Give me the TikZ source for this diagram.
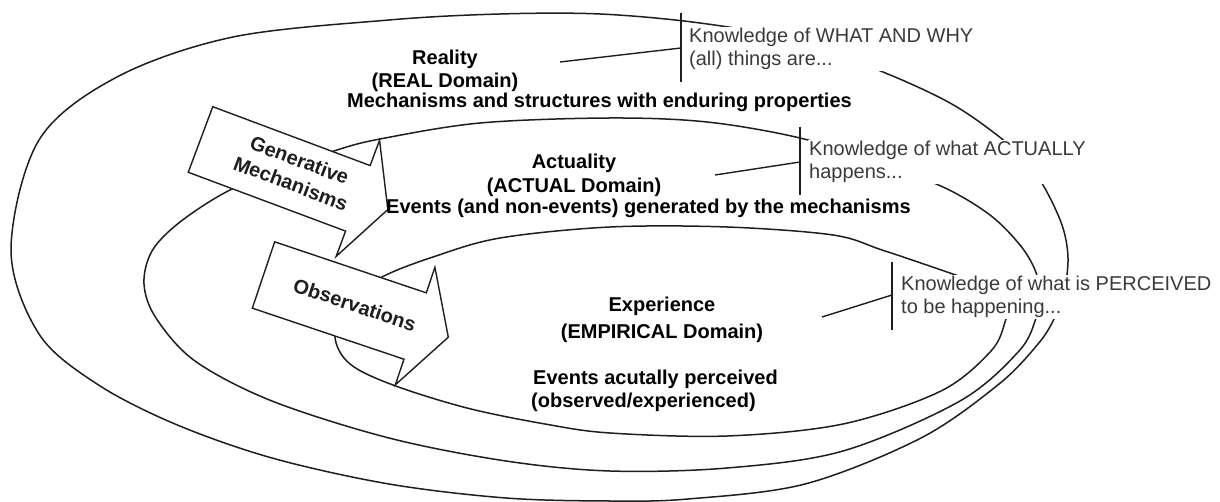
\documentclass[tikz,border=0pt]{standalone}
\usepackage{fontspec}
\setmainfont{Liberation Sans}
\definecolor{ink}{HTML}{1E1E1E}
\definecolor{graytext}{HTML}{3A3A3A}
\begin{document}
\begin{tikzpicture}[x=1pt,y=-1pt,
  loopline/.style={draw=ink, line width=1.5pt},
  blockarrow/.style={draw=ink, line width=1.4pt, fill=white, line join=miter},
  domlabel/.style={font=\fontsize{20}{24}\selectfont\bfseries, text=black, inner sep=0pt},
  knowledge/.style={font=\fontsize{20}{23.5}\selectfont, text=graytext, align=left,
                    fill=white, inner sep=1pt, anchor=north west},
  arrowtag/.style={font=\fontsize{20}{25}\selectfont\bfseries, text=ink, align=center, inner sep=0pt},
  bracketline/.style={draw=ink, line width=1.4pt}]

\useasboundingbox (0,0) rectangle (1220,502);

% outer loop: the real domain
\draw[loopline] plot[smooth cycle, tension=0.55] coordinates {
  (795,40) (700,23) (600,14) (500,14) (389,20) (233,37) (117,77) (39,140)
  (11,250) (39,334) (97,384) (175,424) (272,458) (389,484) (506,498)
  (610,501) (688,499) (805,484) (921,438) (999,384) (1038,344) (1054,319)
  (1064,292) (1068,258) (1062,225) (1043,185) (1022,158) (997,135)
  (950,103) (883,72)};

% middle loop: the actual domain
\draw[loopline] plot[smooth cycle, tension=0.55] coordinates {
  (875,162) (800,138) (707,122) (610,118) (480,123) (380,139) (337,150)
  (290,167) (230,190) (180,222) (152,251) (144,284) (156,318) (195,361)
  (272,401) (389,438) (506,461) (610,471) (727,468) (843,451) (960,401)
  (1019,351) (1036,318) (1040,294) (1035,270) (1020,245) (990,215) (943,187)};

% inner loop: the empirical domain
\draw[loopline] plot[smooth cycle, tension=0.55] coordinates {
  (985,286) (947,272) (882,250) (833,235) (727,227) (610,227) (500,238)
  (433,257) (382,277) (345,303) (335,337) (350,364) (393,385) (467,408)
  (545,424) (610,433) (727,436) (843,424) (941,391) (991,351) (1005,322)
  (1007,303)};

% block arrow: observations
\begin{scope}[shift={(263.5,275)}, rotate=-18.6]
  \draw[blockarrow] (0,-35) -- (160,-35) -- (160,-62) -- (195,0) -- (160,62)
    -- (160,35) -- (0,35) -- cycle;
  \node[arrowtag, rotate=-18.6] (obs) at (96,-1) {Observations};
\end{scope}

% block arrow: generative mechanisms
\begin{scope}[shift={(200.5,139.5)}, rotate=-20.5]
  \draw[blockarrow] (0,-35) -- (168,-35) -- (168,-62) -- (200,0) -- (168,62)
    -- (168,35) -- (0,35) -- cycle;
  \node[arrowtag, rotate=-20.5] (gen) at (100,-3) {Generative\\Mechanisms};
\end{scope}

% knowledge statements on the right
\node[knowledge] (k1) at (688,26.5) {Knowledge of WHAT AND WHY\\(all) things are...};
\node[knowledge] (k2) at (808,139.5) {Knowledge of what ACTUALLY\\happens...};
\node[knowledge] (k3) at (900,274.5) {Knowledge of what is PERCEIVED\\to be happening...};

% domain labels
\node[domlabel, anchor=base] (real) at (445,65) {Reality};
\node[domlabel, anchor=base] (realdom) at (445,88) {(REAL Domain)};
\node[domlabel, anchor=base west] (realtxt) at (347,107.5) {Mechanisms and structures with enduring properties};

\node[domlabel, anchor=base] (act) at (574,169) {Actuality};
\node[domlabel, anchor=base] (actdom) at (574,192.5) {(ACTUAL Domain)};
\node[domlabel, anchor=base west] (acttxt) at (386,214) {Events (and non-events) generated by the mechanisms};

\node[domlabel, anchor=base] (emp) at (662,312) {Experience};
\node[domlabel, anchor=base] (empdom) at (662,338) {(EMPIRICAL Domain)};
\node[domlabel, anchor=base west] (emptxt1) at (533,384) {Events acutally perceived};
\node[domlabel, anchor=base west] (emptxt2) at (531,407) {(observed/experienced)};

% brackets and leader lines
\coordinate (b1top) at (681,13);  \coordinate (b1bot) at (681,82);
\coordinate (b1mid) at (681,48);  \coordinate (l1) at (560,62);
\coordinate (b2top) at (800,127); \coordinate (b2bot) at (800,195);
\coordinate (b2mid) at (800,162); \coordinate (l2) at (715,175);
\coordinate (b3top) at (892,262); \coordinate (b3bot) at (892,330);
\coordinate (b3mid) at (892,295); \coordinate (l3) at (822,317);

\draw[bracketline] (b1top) -- (b1bot);
\draw[bracketline] (l1) -- (b1mid);
\draw[bracketline] (b2top) -- (b2bot);
\draw[bracketline] (l2) -- (b2mid);
\draw[bracketline] (b3top) -- (b3bot);
\draw[bracketline] (l3) -- (b3mid);

\end{tikzpicture}
\end{document}
